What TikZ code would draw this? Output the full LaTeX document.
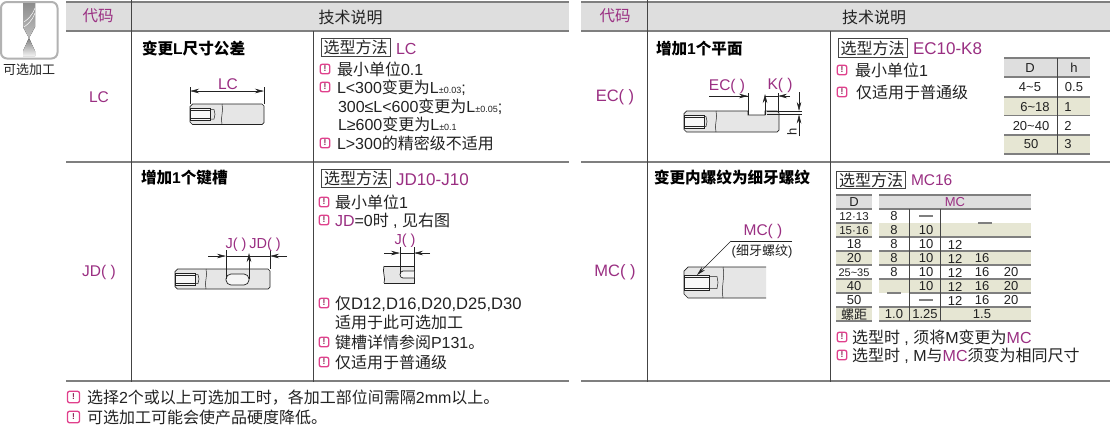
\documentclass[tikz,border=0pt]{standalone}
\usepackage{fontspec}
\setmainfont{Liberation Sans}
\newfontfamily\cjk{Noto Sans CJK SC}
\usetikzlibrary{arrows.meta}
\definecolor{mag}{HTML}{9A2F82}
\definecolor{pinkc}{HTML}{E0408C}
\definecolor{ink}{HTML}{222222}
\definecolor{hdr}{HTML}{DEDEDE}
\definecolor{kha}{HTML}{E6E6D3}
\definecolor{rule}{HTML}{7F7F7F}
\definecolor{vrule}{HTML}{444444}
\definecolor{steel}{HTML}{E6E6E6}
\newcommand{\zh}[1]{{\cjk #1}}
\newcommand{\fs}[1]{\fontsize{#1}{#1}\selectfont}
\newcommand{\mg}[1]{\textcolor{mag}{#1}}
\newcommand{\sbs}[1]{{\fs{9}\textcolor{ink}{#1}}}
\tikzset{
  txt/.style={anchor=base west,inner sep=0,outer sep=0,text=ink,font=\fs{16}},
  ctr/.style={anchor=center,inner sep=0,outer sep=0,text=ink,font=\fs{13}},
  code/.style={anchor=center,inner sep=0,outer sep=0,text=mag,font=\fs{15.5}},
  head/.style={anchor=center,inner sep=0,outer sep=0,text=ink,font=\fs{16}},
  titl/.style={anchor=base west,inner sep=0,outer sep=0,text=black,font=\fs{15.6}\bfseries},
  selbox/.style={draw=vrule,line width=.8,inner sep=0,minimum width=69,minimum height=18.5,text=ink,font=\fs{16}},
  warnbox/.style={draw=pinkc,line width=1.3,rounded corners=2,inner sep=0,minimum width=9.5,minimum height=9.5,text=pinkc!60!black,font=\fs{8.5}\bfseries},
  hline/.style={draw=rule,line width=1.3},
  vline/.style={draw=vrule,line width=.9},
  thin/.style={draw=rule,line width=1.1},
  part/.style={draw=ink,line width=.7},
  dim/.style={draw=ink,line width=.5},
  dimarr/.style={draw=ink,line width=.5,-{Stealth[length=9,width=4.5]}},
  dimboth/.style={draw=ink,line width=.5,{Stealth[length=9,width=4.5]}-{Stealth[length=9,width=4.5]}},
}
% x0 x1 ytop ybot holeEnd tipEnd
\newcommand{\threadhole}[6]{%
  \path[fill=white!70!steel,draw=ink,line width=.6] (#1,#3+4) -- (#5,#3+4) -- (#5,#4-4) -- (#1,#4-4) -- cycle;
  \draw[draw=ink,line width=.5] (#1,#3+6) -- (#5,#3+6) (#1,#4-6) -- (#5,#4-6);
  \draw[draw=ink,line width=.5] (#5,#3+5.5) -- (#6-1,#3+5.5) -- (#6,{(#3+#4)/2}) -- (#6-1,#4-5.5) -- (#5,#4-5.5);
}
% x ytop ybot
\newcommand{\breakline}[3]{%
  \draw[draw=ink,line width=.5] (#1,#2) .. controls (#1+2,{#2+(#3-#2)/3}) and (#1-2,{#2+2*(#3-#2)/3}) .. (#1,#3);
}
\newcommand{\shaft}[7]{%
  \path[fill=steel,part] (#1+2.5,#3) -- (#2-2,#3) -- (#2,#3+2) -- (#2,#4-2) -- (#2-2,#4) -- (#1+2.5,#4) -- (#1,#4-2.5) -- (#1,#3+2.5) -- cycle;
  \threadhole{#1}{#2}{#3}{#4}{#5}{#6}
  \breakline{#7}{#3}{#4}
}
\newcommand{\warn}[3]{\node[warnbox] (#1) at (#2,#3) {!};}
\begin{document}
\begin{tikzpicture}[x=1pt,y=-1pt]
\useasboundingbox (0,0) rectangle (1110,424);
\fill[white] (0,0) rectangle (1110,424);

% ---- option icon
\path[fill=white,draw=black!30,line width=2,rounded corners=6] (1,2) rectangle (57.5,58.5);
\fill[top color=black!45,bottom color=black!25] (23,3) -- (35,3) -- (35,27) -- (29,38) -- (23,27) -- cycle;
\draw[white,line width=.5] (24,27) .. controls (28,24) and (32,21) .. (35,13) (24,22) .. controls (28,19) and (32,16) .. (35,8);
\fill[top color=black!50,bottom color=black!5] (29,38) -- (35,51) -- (35,56) -- (23,56) -- (23,51) -- cycle;
\node[anchor=center,inner sep=0,text=ink,font=\fs{13}] (opt) at (29,70) {\zh{可选加工}};

% ---- header bands
\fill[hdr] (66,2) rectangle (569,31);
\fill[hdr] (581,2) rectangle (1110,31);

% ---- left table rules
\draw[hline] (66,2) -- (569,2) (66,31) -- (569,31) (66,162) -- (569,162) (66,381) -- (569,381);
\draw[vline] (131.5,0) -- (131.5,381.5);
\draw[vline] (313.5,31) -- (313.5,381.5);
% ---- right table rules
\draw[hline] (581,2) -- (1110,2) (581,31) -- (1110,31) (581,162) -- (1110,162) (581,381) -- (1110,381);
\draw[vline] (647.5,0) -- (647.5,381.5);
\draw[vline] (830,31) -- (830,381.5);

% ---- headers
\node[code] (h1) at (98,16) {\zh{代码}};
\node[head] (h2) at (350.5,17) {\zh{技术说明}};
\node[code] (h3) at (615,16) {\zh{代码}};
\node[head] (h4) at (874,17) {\zh{技术说明}};

% ---- code column
\node[code] (cLC) at (99,97) {LC};
\node[code] (cJD) at (99,272) {JD( )};
\node[code,font=\fs{16.5}] (cEC) at (615,97) {EC( )};
\node[code,font=\fs{16.5}] (cMC) at (615,272) {MC( )};

% ---- titles
\node[titl] (t1) at (142,54) {\zh{变更}L\zh{尺寸公差}};
\node[titl] (t2) at (141,183) {\zh{增加}1\zh{个键槽}};
\node[titl] (t3) at (656,54) {\zh{增加}1\zh{个平面}};
\node[titl] (t4) at (654,183) {\zh{变更内螺纹为细牙螺纹}};

% ---- LC text
\node[selbox] (s1) at (355.5,47.5) {\zh{选型方法}};
\node[txt] (s1v) at (396,54) {\mg{LC}};
\warn{w11}{325}{69}
\warn{w12}{325}{87}
\warn{w13}{325}{143}
\node[txt] (a1) at (337,75) {\zh{最小单位}0.1};
\node[txt] (a2) at (337,93) {L<300\zh{变更为}L\sbs{±0.03};};
\node[txt] (a3) at (338,112) {300≤L<600\zh{变更为}L\sbs{±0.05};};
\node[txt] (a4) at (338,130) {L≥600\zh{变更为}L\sbs{±0.1}};
\node[txt] (a5) at (337,149) {L>300\zh{的精密级不适用}};

% ---- JD text
\node[selbox] (s2) at (356,178.5) {\zh{选型方法}};
\node[txt,font=\fs{17}] (s2v) at (396,185) {\mg{JD10-J10}};
\warn{w21}{324}{202}
\warn{w22}{324}{220}
\warn{w23}{324}{303}
\warn{w24}{324}{342}
\warn{w25}{324}{362}
\node[txt] (b1) at (335,208) {\zh{最小单位}1};
\node[txt] (b2) at (335,226) {\mg{JD}=0\zh{时} , \zh{见右图}};
\node[txt,font=\fs{16.6}] (b3) at (335,309) {\zh{\fs{16}仅}D12,D16,D20,D25,D30};
\node[txt] (b4) at (335,328) {\zh{适用于此可选加工}};
\node[txt] (b5) at (335,348) {\zh{键槽详情参阅}P131\zh{。}};
\node[txt] (b6) at (335,368) {\zh{仅适用于普通级}};

% ---- EC text
\node[selbox] (s3) at (872.5,48) {\zh{选型方法}};
\node[txt,font=\fs{17}] (s3v) at (913,54) {\mg{EC10-K8}};
\warn{w31}{842}{70}
\warn{w32}{842}{92}
\node[txt] (c1) at (855,76) {\zh{最小单位}1};
\node[txt] (c2) at (856,98) {\zh{仅适用于普通级}};

% ---- EC small table
\fill[hdr] (1004,58) rectangle (1090,77);
\fill[kha] (1004,97) rectangle (1090,115);
\fill[kha] (1004,135) rectangle (1090,154);
\draw[thin] (1004,58) -- (1090,58) (1004,77) -- (1090,77) (1004,97) -- (1090,97) (1004,115.5) -- (1090,115.5) (1004,135) -- (1090,135) (1004,154) -- (1090,154);
\draw[vline,line width=.7] (1057,58) -- (1057,154);
\node[ctr] (e1) at (1030,68) {D};
\node[ctr] (e2) at (1074,68) {h};
\node[ctr] (e3) at (1030,87) {4\textasciitilde5};
\node[ctr] (e4) at (1074,87) {0.5};
\node[ctr] (e5) at (1035,107) {6\textasciitilde18};
\node[ctr] (e6) at (1068,107) {1};
\node[ctr] (e7) at (1031,126) {20\textasciitilde40};
\node[ctr] (e8) at (1068,126) {2};
\node[ctr] (e9) at (1031,144) {50};
\node[ctr] (e10) at (1068,144) {3};

% ---- MC text
\node[selbox,minimum height=16.5] (s4) at (871,180) {\zh{选型方法}};
\node[txt,font=\fs{15.5}] (s4v) at (911,185) {\mg{MC16}};
\warn{w41}{842}{337}
\warn{w42}{842}{355}
\node[txt] (d1) at (852,343) {\zh{选型时} , \zh{须将}M\zh{变更为}\mg{MC}};
\node[txt] (d2) at (852,361) {\zh{选型时} , M\zh{与}\mg{MC}\zh{须变为相同尺寸}};

% ---- MC table
\fill[hdr] (836,195) rectangle (872,209);
\fill[hdr] (879,195) rectangle (1031,209);
\fill[kha] (836,223) rectangle (872,237);
\fill[kha] (879,223) rectangle (1031,237);
\fill[kha] (836,251) rectangle (872,265);
\fill[kha] (879,251) rectangle (1031,265);
\fill[kha] (836,279) rectangle (872,293);
\fill[kha] (879,279) rectangle (1031,293);
\fill[kha] (836,307) rectangle (872,321);
\fill[kha] (879,307) rectangle (1031,321);
\draw[thin] (836,195) -- (872,195) (879,195) -- (1031,195)
  (836,209) -- (872,209) (879,209) -- (1031,209)
  (836,223) -- (872,223) (978,223) -- (992,223)
  (836,237) -- (872,237) (879,237) -- (1031,237)
  (836,251) -- (872,251) (879,251) -- (1031,251)
  (836,265) -- (872,265) (879,265) -- (1031,265)
  (836,279) -- (872,279) (879,279) -- (1031,279)
  (836,293) -- (872,293) (887,293) -- (901,293) (909,293) -- (1031,293)
  (836,307) -- (872,307) (879,307) -- (1031,307)
  (836,321) -- (872,321) (879,321) -- (1031,321);
\draw[thin] (919,216) -- (933,216) (919,300) -- (933,300);
\draw[vline,line width=.7] (909.5,209) -- (909.5,321) (940,209) -- (940,321);
\node[ctr] (m0) at (854,202.5) {D};
\node[ctr,text=mag] (m1) at (955,202.5) {MC};
\node[ctr,font=\fs{11.5}] (r1) at (854,216.5) {12·13};
\node[ctr,font=\fs{11.5}] (r2) at (854,230.5) {15·16};
\node[ctr] (r3) at (854,244.5) {18};
\node[ctr] (r4) at (854,258.5) {20};
\node[ctr,font=\fs{11}] (r5) at (854,272.5) {25\textasciitilde35};
\node[ctr] (r6) at (854,286.5) {40};
\node[ctr] (r7) at (854,300.5) {50};
\node[ctr] (r8) at (854,314.5) {\zh{螺距}};
\node[ctr] (x11) at (894,216.5) {8};
\node[ctr] (x21) at (894,230.5) {8};
\node[ctr] (x22) at (926,230.5) {10};
\node[ctr] (x31) at (894,244.5) {8};
\node[ctr] (x32) at (926,244.5) {10};
\node[ctr] (x33) at (955,244.5) {12};
\node[ctr] (x41) at (894,258.5) {8};
\node[ctr] (x42) at (926,258.5) {10};
\node[ctr] (x43) at (955,258.5) {12};
\node[ctr] (x44) at (982,258.5) {16};
\node[ctr] (x51) at (894,272.5) {8};
\node[ctr] (x52) at (926,272.5) {10};
\node[ctr] (x53) at (955,272.5) {12};
\node[ctr] (x54) at (982,272.5) {16};
\node[ctr] (x55) at (1011,272.5) {20};
\node[ctr] (x62) at (926,286.5) {10};
\node[ctr] (x63) at (955,286.5) {12};
\node[ctr] (x64) at (982,286.5) {16};
\node[ctr] (x65) at (1011,286.5) {20};
\node[ctr] (x73) at (955,300.5) {12};
\node[ctr] (x74) at (982,300.5) {16};
\node[ctr] (x75) at (1011,300.5) {20};
\node[ctr] (x81) at (894,314.5) {1.0};
\node[ctr] (x82) at (925,314.5) {1.25};
\node[ctr] (x83) at (982,314.5) {1.5};

% ---- footer
\node[warnbox,minimum width=12,minimum height=11.5] (f1w) at (73.5,397) {!};
\node[warnbox,minimum width=12,minimum height=11.5] (f2w) at (73.5,417) {!};
\node[txt] (f1) at (87,403) {\zh{选择}2\zh{个或以上可选加工时\char"FF0C 各加工部位间需隔}2mm\zh{以上。}};
\node[txt] (f2) at (87,423) {\zh{可选加工可能会使产品硬度降低。}};

% ---- LC drawing
\shaft{190}{264}{104}{124.5}{210}{215}{222}
\draw[dim] (190,87) -- (190,104) (264,87) -- (264,104);
\draw[dimboth] (190,91) -- (264,91);
\node[code] (dLC) at (228,84) {LC};

% ---- JD drawing
\shaft{175}{270}{269}{289}{195}{199}{206}
\path[fill=white!60!steel,part,rounded corners=5] (226,274) rectangle (249,285);
\draw[dim] (226,250) -- (226,279) (270,250) -- (270,269);
\draw[dim] (226,256) -- (270,256);
\draw[dimarr] (208,256) -- (226,256);
\draw[dimarr] (287,256) -- (270,256);
\draw[dimarr] (249,279) -- (249,253);
\node[code,font=\fs{14.5}] (dJ) at (236,245) {J( )};
\node[code,font=\fs{14.5}] (dJD) at (265,245) {JD( )};

% ---- JD=0 detail
\path[fill=steel,draw=none] (386,266) -- (414,266) -- (414,283) -- (384,283) .. controls (386,278) and (382,272) .. (384,266) -- cycle;
\draw[part] (384,266) -- (414,266) -- (414,283) -- (384,283);
\draw[part] (384,266) .. controls (382,272) and (386,278) .. (384,283);
\path[fill=white!60!steel,part] (414,271) -- (403,271) .. controls (399,271) and (399,278) .. (403,278) -- (414,278);
\draw[dim] (400,247) -- (400,274) (414,247) -- (414,266);
\draw[dim] (400,253) -- (414,253);
\draw[dimarr] (384,253) -- (400,253);
\draw[dimarr] (430,253) -- (414,253);
\node[code,font=\fs{14.5}] (dJ2) at (405,241) {J( )};

% ---- EC drawing
\path[fill=steel,part] (686.5,111) -- (748,111) -- (748,115) -- (765,115) -- (765,111) -- (777,111) -- (779,113) -- (779,130) -- (777,132) -- (686.5,132) -- (684,129.5) -- (684,113.5) -- cycle;
\threadhole{684}{779}{111}{132}{704}{707}
\breakline{716}{111}{132}
\draw[dim] (748,93) -- (748,115) (778,93) -- (778,111);
\draw[dim] (709,96) -- (748,96) (765,96) -- (778,96);
\draw[dimarr] (735,96) -- (748,96);
\draw[dimarr] (790,96) -- (778,96);
\draw[dimarr] (765,115) -- (765,94);
\draw[dim] (767,111) -- (802,111) (767,114.5) -- (802,114.5);
\draw[dimarr] (799,92) -- (799,111);
\draw[dimarr] (799,136) -- (799,114.5);
\node[code] (dEC) at (727,86) {EC( )};
\node[code] (dK) at (780,85) {K( )};
\node[ctr,rotate=90] (dh) at (792,132) {h};

% ---- MC drawing
\path[fill=steel,draw=none] (688,267) -- (766,267) -- (766,298) -- (688,298) -- (684,294) -- (684,271) -- cycle;
\draw[part] (766,267) -- (688,267) -- (684,271) -- (684,294) -- (688,298) -- (766,298);
\threadhole{684}{766}{271}{294}{709}{718}
\breakline{723}{267}{298}
\coordinate (mcl) at (731,241);
\coordinate (mcr) at (792,241);
\coordinate (mct) at (697,275);
\draw[dim] (mcr) -- (mcl);
\draw[dimarr] (mcl) -- (mct);
\node[code] (dMC) at (763,231) {MC( )};
\node[anchor=center,inner sep=0,text=ink,font=\fs{13}] (dMC2) at (762,251.5) {(\zh{细牙螺纹})};
\end{tikzpicture}
\end{document}
